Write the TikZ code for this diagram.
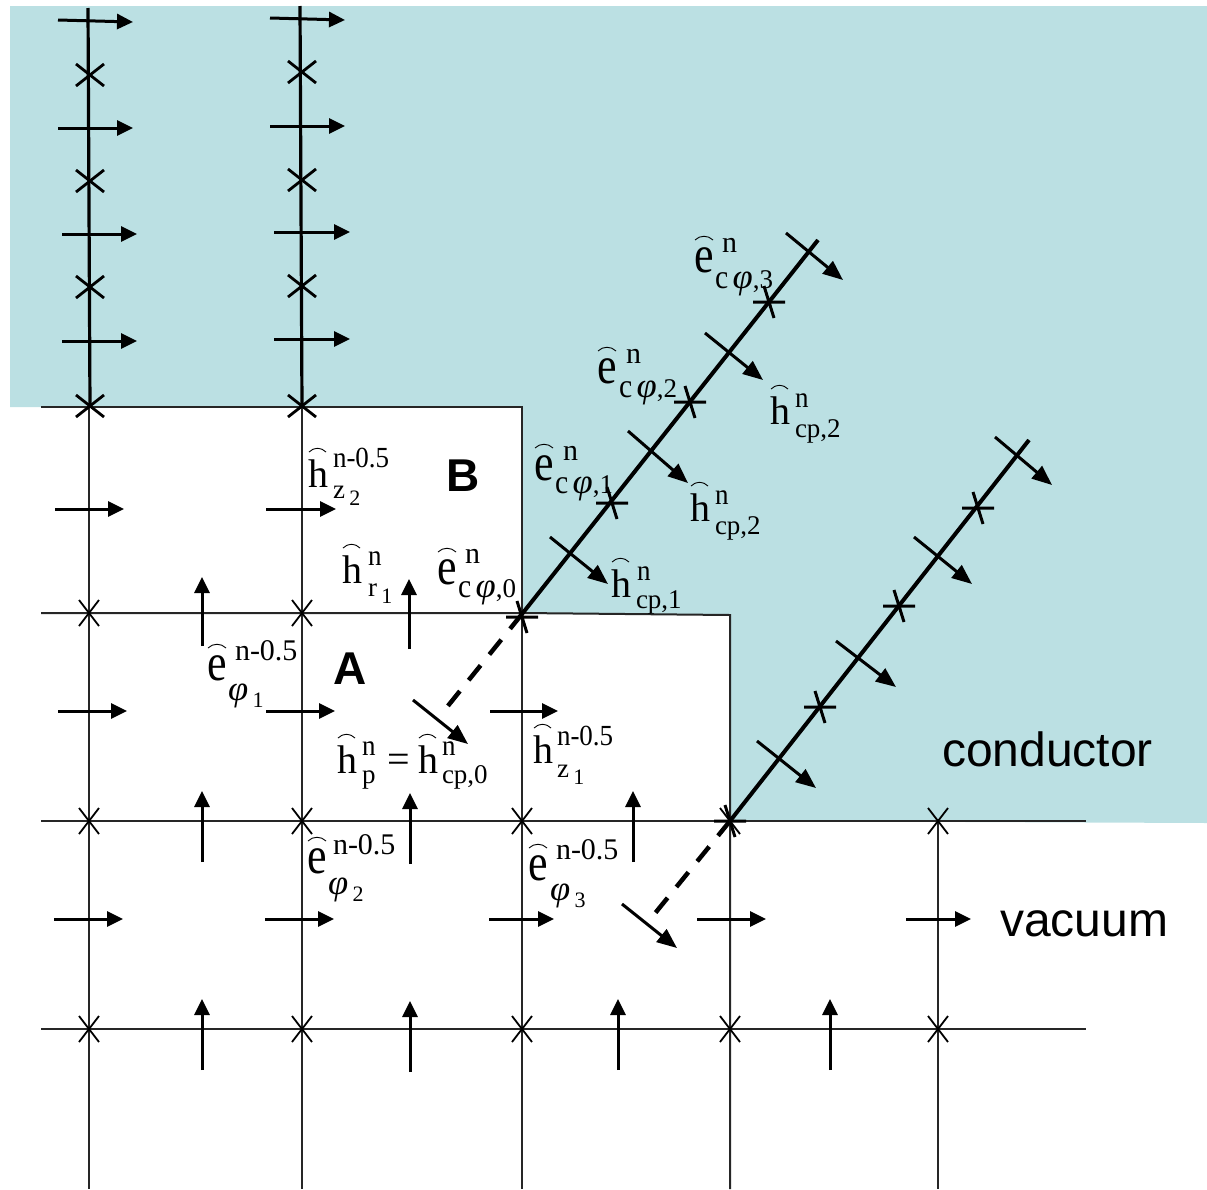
\documentclass[tikz,border=0pt]{standalone}
\usepackage{fontspec}
\setmainfont{Liberation Serif}
\newfontfamily\lsans{Liberation Sans}
\usetikzlibrary{arrows.meta}
\definecolor{cond}{HTML}{BBE0E3}
\newcommand{\bigfont}{\fontsize{40}{40}\selectfont}
\newcommand{\bigefont}{\fontsize{44}{44}\selectfont}
\newcommand{\supfont}{\fontsize{27}{27}\selectfont}
\newcommand{\supefont}{\fontsize{30}{30}\selectfont}
\newcommand{\subfont}{\fontsize{27}{27}\selectfont}
\newcommand{\idx}[1]{\,\raisebox{-7pt}{\fontsize{22}{22}\selectfont #1}}
\newcommand{\iphi}{\scalebox{1.35}[1.3]{\itshape φ}}
\newcommand{\cphi}[1]{\scalebox{1.1}[1.25]{c}\,\iphi,#1}
% letter with arc: name, x, y, letter, arc rise
\newcommand{\Hh}[3]{\node[txt,font=\bigfont] (#1) at (#2,#3) {h};
  \begin{scope}[shift={(#2,#3)}]\draw[hatarc] (1,-35) .. controls (6,-40) and (13,-40) .. (18,-35);\end{scope}}
\newcommand{\Ee}[3]{\node[txt,font=\bigefont] (#1) at (#2,#3) {\scalebox{1}[1.2]{e}};
  \begin{scope}[shift={(#2,#3)}]\draw[hatarc] (1,-32) .. controls (6,-37) and (14,-37) .. (19,-32);\end{scope}}
\newcommand{\Sup}[4]{\node[txt,font=\supfont] (#1) at (#2,#3) {\scalebox{1}[1.08]{#4}};}
\newcommand{\SupE}[4]{\node[txt,font=\supefont] (#1) at (#2,#3) {#4};}
\newcommand{\Sub}[4]{\node[txt,font=\subfont] (#1) at (#2,#3) {#4};}
\newcommand{\crs}[2]{\draw[cross] (#1-10,#2-13) -- (#1+10,#2+13) (#1+10,#2-13) -- (#1-10,#2+13);}
\newcommand{\crt}[2]{\draw[thick cross] (#1-16,#2) -- (#1+16,#2) (#1-5,#2-16) -- (#1+5,#2+16);}
\tikzset{
 txt/.style={anchor=base west,inner sep=0pt,outer sep=0pt},
 hatarc/.style={line width=0.9pt},
 grid line/.style={line width=2pt,black!85},
 heavy line/.style={line width=3.2pt},
 diag/.style={line width=4pt},
 dash line/.style={line width=4.5pt,dash pattern=on 19pt off 14pt},
 cross/.style={line width=1.8pt},
 thick cross/.style={line width=3pt},
 arr/.style={line width=3pt,-{Triangle[length=16pt,width=15pt]}},
 narr/.style={line width=3pt,-{Triangle[length=20pt,width=16pt]}},
 big/.style={txt,font=\lsans\fontsize{48}{48}\selectfont},
 bigb/.style={txt,font=\lsans\bfseries\fontsize{46}{46}\selectfont}
}
\begin{document}
\begin{tikzpicture}[x=1pt,y=-1pt]
\useasboundingbox (0,0) rectangle (1207,1189);
\fill[cond] (10,6) -- (1207,6) -- (1207,823) -- (730,821) -- (730,614) -- (522,614) -- (522,407) -- (10,407) -- cycle;
% grid
\draw[grid line] (41,407) -- (522,407) -- (522,1189);
\draw[grid line] (41,613) -- (522,613) -- (730,615) -- (730,1189);
\draw[grid line] (41,821) -- (1086,821);
\draw[grid line] (41,1029) -- (1086,1029);
\draw[grid line] (89,407) -- (89,1189);
\draw[grid line] (302,407) -- (302,1189);
\draw[grid line] (938,821) -- (938,1189);
\draw[heavy line] (88,8) -- (90,407);
\draw[heavy line] (300,6) -- (302,407);
% crosses
\foreach \p/\q in {89/613,302/613,89/821,302/821,522/821,730/821,938/821,89/1029,302/1029,522/1029,730/1029,938/1029}{\crs{\p}{\q}}
\foreach \p/\q in {90/75,302/72,90/181,302/180,90/287,302/286,90/406,302/406}{\draw[line width=2.8pt] (\p-14,\q-11) -- (\p+14,\q+11) (\p+14,\q-11) -- (\p-14,\q+11);}
% horizontal arrows
\foreach \a/\b/\c/\d in {58/20/133/22,58/128/133/128,62/234/137/234,62/341/137/341,270/18/345/20,270/126/345/126,274/232/350/232,274/339/350/339}{\draw[arr] (\a,\b) -- (\c,\d);}
\foreach \a/\b/\c in {55/124/509,266/336/509,58/127/711,266/335/711,490/558/711,54/123/919,265/334/919,489/554/919,697/766/919,906/971/919}{\draw[arr] (\a,\c) -- (\b,\c);}
% vertical arrows
\foreach \a/\b/\c in {202/646/577,409/649/579,202/862/791,410/864/793,633/862/791,202/1070/999,410/1072/1001,618/1070/999,830/1070/999}{\draw[arr] (\a,\b) -- (\a,\c);}
% diagonals
\draw[diag] (522,614) -- (818,240);
\draw[diag] (730,821) -- (1029,440);
\draw[dash line] (522,614) -- (443,712);
\draw[dash line] (730,821) -- (652,917);
\foreach \a/\b/\c/\d in {550/537/608/584,628/431/688/483,705/333/763/380,786/233/843/280,413/700/468/744,757/741/816/788,836/641/896/687,914/537/972/584,995/437/1052/485,622/904/677/948}{\draw[narr] (\a,\b) -- (\c,\d);}
\foreach \p/\q in {612/503,690/402,769/302,522/617,820/707,899/606,978/508,730/821}{\crt{\p}{\q}}
% text
\node[bigb] (labA) at (333,684) {A};
\node[bigb] (labB) at (446,491) {B};
\node[big] (lcond) at (942,766) {conductor};
\node[big] (lvac) at (1000,936) {vacuum};
% h z2
\Hh{hz2}{308}{487}\Sup{hz2s}{333}{467}{n-0.5}\Sub{hz2b}{333}{498}{z\idx{2}}
% h r1
\Hh{hr1}{342}{583}\Sup{hr1s}{368}{565}{n}\Sub{hr1b}{368}{596}{r\idx{1}}
% e c0
\Ee{ec0}{437}{584}\SupE{ec0s}{465}{563}{n}\Sub{ec0b}{458}{597}{\cphi{0}}
% e c1
\Ee{ec1}{534}{480}\SupE{ec1s}{563}{460}{n}\Sub{ec1b}{555}{493}{\cphi{1}}
% e c2
\Ee{ec2}{597}{383}\SupE{ec2s}{626}{363}{n}\Sub{ec2b}{619}{397}{\cphi{2}}
% e c3
\Ee{ec3}{694}{272}\SupE{ec3s}{722}{252}{n}\Sub{ec3b}{715}{288}{\cphi{3}}
% h cp
\Hh{hc1}{611}{597}\Sup{hc1s}{637}{580}{n}\Sub{hc1b}{636}{608}{cp,1}
\Hh{hc2a}{690}{521}\Sup{hc2as}{715}{504}{n}\Sub{hc2ab}{715}{534}{cp,2}
\Hh{hc2b}{770}{424}\Sup{hc2bs}{795}{407}{n}\Sub{hc2bb}{795}{437}{cp,2}
% e phi
\Ee{ep1}{207}{680}\SupE{ep1s}{235}{660}{n-0.5}\Sub{ep1b}{228}{700}{\iphi\idx{1}}
\Ee{ep2}{307}{873}\SupE{ep2s}{333}{854}{n-0.5}\Sub{ep2b}{328}{894}{\iphi\idx{2}}
\Ee{ep3}{528}{880}\SupE{ep3s}{556}{859}{n-0.5}\Sub{ep3b}{550}{900}{\iphi\idx{3}}
% h p
\Hh{hp}{337}{773}\Sup{hps}{362}{755}{n}\Sub{hpb}{362}{783}{p}
\node[txt,font=\bigfont] (eq) at (387,772) {=};
\Hh{hc0}{418}{773}\Sup{hc0s}{442}{755}{n}\Sub{hc0b}{442}{783}{cp,0}
% h z1
\Hh{hz1}{533}{763}\Sup{hz1s}{557}{745}{n-0.5}\Sub{hz1b}{557}{777}{z\idx{1}}
\end{tikzpicture}
\end{document}
